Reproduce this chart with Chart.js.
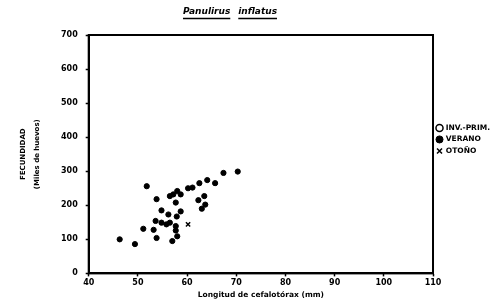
<!DOCTYPE html>
<html><head><meta charset="utf-8">
<script src="https://cdn.jsdelivr.net/npm/chart.js@4"></script>
<style>html,body{margin:0;padding:0;background:#fff}canvas{display:block}</style>
</head><body>
<canvas id="c" width="504" height="300"></canvas>
<script>
const seriesNames = ['INV.-PRIM.', 'VERANO', 'OTOÑO'];
const invPrimLength = [];
const invPrimEggs = [];
const veranoLength = [51.8,53.8,56.5,57.2,58.0,58.7,57.7,60.2,61.1,62.5,64.1,65.7,67.4,70.3,62.3,63.5,63.7,63.0,54.8,58.7,57.9,53.6,54.8,56.2,56.5,55.8,57.7,57.7,58.0,51.1,53.2,53.8,57.0,46.3,49.4];
const veranoEggs   = [256,218,227,232,242,232,208,250,252,265,274,265,295,299,215,227,202,190,185,182,167,154,149,173,149,144,139,126,109,131,128,104,95,100,86];
const otonoLength = [60.2];
const otonoEggs = [144];
const xTicks = [40,50,60,70,80,90,100,110];
const yTicks = [0,100,200,300,400,500,600,700];
const titleWords = ['Panulirus', 'inflatus'];
const xTitle = 'Longitud de cefalotórax (mm)';
const yTitle = ['FECUNDIDAD', '(Miles de huevos)'];

const pts = (xs, ys) => xs.map((x, i) => ({x, y: ys[i]}));
const FONT = '"DejaVu Sans", "Liberation Sans", sans-serif';

const framePlugin = {
  id: 'frame',
  afterDraw(chart) {
    const {ctx, chartArea: a} = chart;
    ctx.save();
    ctx.strokeStyle = '#000';
    ctx.lineWidth = 2;
    ctx.strokeRect(a.left, a.top, a.right - a.left, a.bottom - a.top);
    ctx.fillStyle = '#000';
    ctx.font = 'italic bold 9px ' + FONT;
    ctx.textBaseline = 'alphabetic';
    const gap = 8;
    const w0 = ctx.measureText(titleWords[0]).width;
    const w1 = ctx.measureText(titleWords[1]).width;
    const total = w0 + gap + w1;
    const x = 230 - total / 2;
    const y = 14;
    ctx.lineWidth = 1.3;
    ctx.fillText(titleWords[0], x, y);
    ctx.beginPath(); ctx.moveTo(x, y + 4.5); ctx.lineTo(x + w0, y + 4.5); ctx.stroke();
    const x2 = x + w0 + gap;
    ctx.fillText(titleWords[1], x2, y);
    ctx.beginPath(); ctx.moveTo(x2, y + 4.5); ctx.lineTo(x2 + w1, y + 4.5); ctx.stroke();
    ctx.restore();
  }
};

new Chart(document.getElementById('c'), {
  type: 'scatter',
  data: {
    datasets: [
      {label: seriesNames[0], data: pts(invPrimLength, invPrimEggs), pointStyle: 'circle', pointRadius: 2.6, backgroundColor: '#fff', borderColor: '#000', borderWidth: 1.5},
      {label: seriesNames[1], data: pts(veranoLength, veranoEggs), pointStyle: 'circle', pointRadius: 2.6, backgroundColor: '#000', borderColor: '#000', borderWidth: 1},
      {label: seriesNames[2], data: pts(otonoLength, otonoEggs), pointStyle: 'crossRot', pointRadius: 3, backgroundColor: '#000', borderColor: '#000', borderWidth: 1.5}
    ]
  },
  options: {
    responsive: false,
    animation: false,
    layout: {padding: {top: 35, left: 16, right: 4, bottom: 0}},
    plugins: {
      title: {display: false},
      tooltip: {enabled: false},
      legend: {
        position: 'right',
        align: 'start',
        title: {display: true, text: ' ', padding: {top: 78, bottom: 0}, font: {size: 6}},
        labels: {
          usePointStyle: true,
          boxWidth: 5, boxHeight: 5,
          padding: 4,
          color: '#000',
          font: {family: FONT, size: 7.5, weight: 'bold'}
        }
      }
    },
    scales: {
      x: {
        type: 'linear', min: 40, max: 110,
        afterBuildTicks: s => { s.ticks = xTicks.map(v => ({value: v})); },
        grid: {drawOnChartArea: false, color: '#000', tickLength: 3, tickWidth: 1.5},
        border: {color: '#000', width: 2},
        ticks: {color: '#000', font: {family: FONT, size: 8, weight: 'bold'}, padding: 2, maxRotation: 0},
        title: {display: true, text: xTitle, color: '#000', font: {family: FONT, size: 7.5, weight: 'bold'}, padding: {top: 1, bottom: 0}}
      },
      y: {
        type: 'linear', min: 0, max: 700,
        afterBuildTicks: s => { s.ticks = yTicks.map(v => ({value: v})); },
        grid: {drawOnChartArea: false, color: '#000', tickLength: 3, tickWidth: 1.5},
        border: {color: '#000', width: 2},
        ticks: {color: '#000', font: {family: FONT, size: 8, weight: 'bold'}, padding: 8},
        title: {display: true, text: yTitle, color: '#000', font: {family: FONT, size: 7, weight: 'bold', lineHeight: 2}, padding: {top: 0, bottom: 9}}
      }
    }
  },
  plugins: [framePlugin]
});
</script>
</body></html>
